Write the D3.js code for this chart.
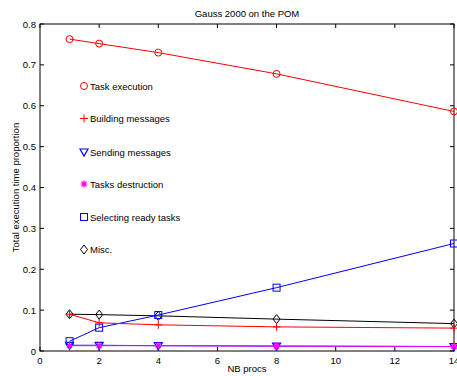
<!DOCTYPE html>
<html><head><meta charset="utf-8">
<script src="https://cdn.jsdelivr.net/npm/d3@7"></script>
<style>body{margin:0;background:#fff}svg{display:block}text{font-family:"Liberation Sans",Arial,sans-serif}</style>
</head><body>
<script>
const procs = [1, 2, 4, 8, 14];
const taskExecution = [0.763, 0.752, 0.730, 0.678, 0.586];
const buildingMessages = [0.090, 0.069, 0.064, 0.059, 0.056];
const sendingMessages = [0.014, 0.014, 0.013, 0.012, 0.011];
const tasksDestruction = [0.013, 0.013, 0.013, 0.012, 0.011];
const selectingReadyTasks = [0.024, 0.057, 0.088, 0.155, 0.263];
const misc = [0.090, 0.089, 0.086, 0.078, 0.067];
const seriesNames = ["Task execution","Building messages","Sending messages","Tasks destruction","Selecting ready tasks","Misc."];
const xTicks = [0,2,4,6,8,10,12,14];
const yTicks = [0,0.1,0.2,0.3,0.4,0.5,0.6,0.7,0.8];

const W=457,H=376, L=40, R=454, T=24, B=351;
const svg=d3.select("body").append("svg").attr("width",W).attr("height",H);
const x=d3.scaleLinear().domain([0,14]).range([L,R]);
const y=d3.scaleLinear().domain([0,0.8]).range([B,T]);

const series=[
 {name:seriesNames[0],v:taskExecution,c:"#ff0000",m:"circle"},
 {name:seriesNames[1],v:buildingMessages,c:"#ff0000",m:"plus"},
 {name:seriesNames[2],v:sendingMessages,c:"#0000ff",m:"tri"},
 {name:seriesNames[3],v:tasksDestruction,c:"#ff00ff",m:"star"},
 {name:seriesNames[4],v:selectingReadyTasks,c:"#0000ff",m:"square"},
 {name:seriesNames[5],v:misc,c:"#000000",m:"diamond"}
];

const fs=9.5;
const g=svg.append("g");
g.append("rect").attr("x",L).attr("y",T).attr("width",R-L).attr("height",B-T).attr("fill","none").attr("stroke","#000").attr("stroke-width",1);
const tl=4;
xTicks.forEach(t=>{
  const px=x(t);
  g.append("line").attr("x1",px).attr("x2",px).attr("y1",B).attr("y2",B-tl).attr("stroke","#000");
  g.append("line").attr("x1",px).attr("x2",px).attr("y1",T).attr("y2",T+tl).attr("stroke","#000");
  g.append("text").attr("x",px).attr("y",B+13).attr("text-anchor","middle").attr("font-size",fs).text(t);
});
yTicks.forEach(t=>{
  const py=y(t);
  g.append("line").attr("x1",L).attr("x2",L+tl).attr("y1",py).attr("y2",py).attr("stroke","#000");
  g.append("line").attr("x1",R).attr("x2",R-tl).attr("y1",py).attr("y2",py).attr("stroke","#000");
  g.append("text").attr("x",L-4).attr("y",py+3.5).attr("text-anchor","end").attr("font-size",fs).text(d3.format(".1f")(t).replace(/^0\.0$/,"0"));
});
svg.append("text").attr("x",247).attr("y",17).attr("text-anchor","middle").attr("font-size",9.5).text("Gauss 2000 on the POM");
svg.append("text").attr("x",247).attr("y",372).attr("text-anchor","middle").attr("font-size",9.5).text("NB procs");
svg.append("text").attr("transform","translate(19,"+((T+B)/2)+") rotate(-90)").attr("text-anchor","middle").attr("font-size",9.5).text("Total execution time proportion");

function marker(sel,m,c,cx,cy){
  if(m==="circle") sel.append("circle").attr("cx",cx).attr("cy",cy).attr("r",3.5).attr("fill","none").attr("stroke",c);
  else if(m==="plus") sel.append("path").attr("d",`M${cx-4},${cy}H${cx+4}M${cx},${cy-4}V${cy+4}`).attr("stroke",c).attr("fill","none");
  else if(m==="tri") sel.append("path").attr("d",`M${cx-4},${cy-3}L${cx+4},${cy-3}L${cx},${cy+4}Z`).attr("stroke",c).attr("fill","none").attr("stroke-width",1.2);
  else if(m==="star") sel.append("path").attr("d",`M${cx-3.5},${cy}H${cx+3.5}M${cx},${cy-3.5}V${cy+3.5}M${cx-2.5},${cy-2.5}L${cx+2.5},${cy+2.5}M${cx-2.5},${cy+2.5}L${cx+2.5},${cy-2.5}`).attr("stroke",c).attr("fill","none").attr("stroke-width",1.2);
  else if(m==="square") sel.append("rect").attr("x",cx-3.5).attr("y",cy-3.5).attr("width",7).attr("height",7).attr("stroke",c).attr("fill","none");
  else if(m==="diamond") sel.append("path").attr("d",`M${cx},${cy-4.5}L${cx+3.5},${cy}L${cx},${cy+4.5}L${cx-3.5},${cy}Z`).attr("stroke",c).attr("fill","none");
}

const line=d3.line().x((d,i)=>x(procs[i])).y(d=>y(d));
const order=[5,4,1,2,3,0];
order.forEach(k=>{
  const s=series[k];
  const sg=svg.append("g");
  sg.append("path").attr("d",line(s.v)).attr("fill","none").attr("stroke",s.c).attr("stroke-width",1);
  s.v.forEach((v,i)=>marker(sg,s.m,s.c,x(procs[i]),y(v)));
});

const legY=[86,118.5,152,184,217,249.5];
series.forEach((s,i)=>{
  const lg=svg.append("g");
  marker(lg,s.m,s.c,84,legY[i]);
  lg.append("text").attr("x",90).attr("y",legY[i]+3.5).attr("font-size",9.5).text(s.name);
});
</script>
</body></html>
